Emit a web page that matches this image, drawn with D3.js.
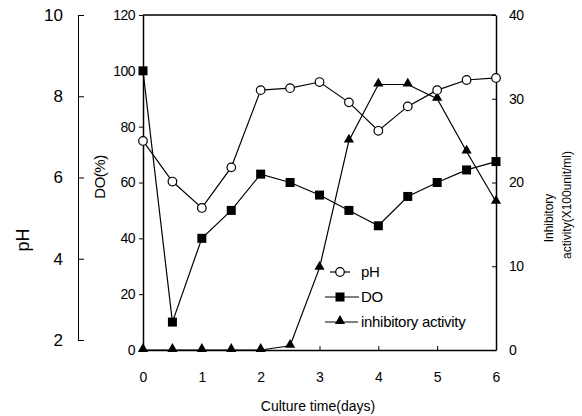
<!DOCTYPE html>
<html>
<head>
<meta charset="utf-8">
<script src="https://cdn.jsdelivr.net/npm/d3@7"></script>
<style>
  body { margin: 0; background: #fff; }
  svg text { font-family: "Liberation Sans", Arial, sans-serif; fill: #000; }
  .axis path, .axis line { stroke: #000; }
</style>
</head>
<body>
<div id="chart"></div>
<script>
// Culture time (days)
const days = [0, 0.5, 1, 1.5, 2, 2.5, 3, 3.5, 4, 4.5, 5, 5.5, 6];
// pH (open circles, far-left axis)
const phValues = [6.9, 5.9, 5.25, 6.25, 8.15, 8.2, 8.35, 7.85, 7.15, 7.75, 8.15, 8.4, 8.45];
// DO % (filled squares, left axis)
const doValues = [100, 10, 40, 50, 63, 60, 55.5, 50, 44.5, 55, 60, 64.5, 67.5];
// Inhibitory activity x100 unit/ml (filled triangles, right axis)
const inhValues = [0, 0, 0, 0, 0, 0.5, 9.8, 25, 31.7, 31.7, 30, 23.7, 17.7];

const phTicks = [2, 4, 6, 8, 10];
const doTicks = [0, 20, 40, 60, 80, 100, 120];
const inhTicks = [0, 10, 20, 30, 40];
const dayTicks = [0, 1, 2, 3, 4, 5, 6];

const W = 582, H = 416;
const plot = { left: 143, right: 496, top: 15, bottom: 350 };

const svg = d3.select("#chart").append("svg")
  .attr("width", W).attr("height", H);

const x = d3.scaleLinear().domain([0, 6]).range([plot.left, plot.right]);
const yDO = d3.scaleLinear().domain([0, 120]).range([plot.bottom, plot.top]);
const yPH = d3.scaleLinear().domain([2, 10]).range([340, plot.top]);
const yInh = d3.scaleLinear().domain([0, 40]).range([plot.bottom, plot.top]);

// frame top line
svg.append("line")
  .attr("x1", plot.left).attr("x2", plot.right).attr("y1", plot.top).attr("y2", plot.top)
  .attr("stroke", "#000").attr("stroke-width", 1.5);

// pH axis (separate, far left)
const phAxis = svg.append("g").attr("class", "axis")
  .attr("transform", "translate(78,0)")
  .call(d3.axisLeft(yPH).tickValues(phTicks).tickSizeInner(-6).tickSizeOuter(0).tickPadding(15));
phAxis.selectAll("text").style("font-size", "17px");

// DO axis
const doAxis = svg.append("g").attr("class", "axis")
  .attr("transform", `translate(${plot.left},0)`)
  .call(d3.axisLeft(yDO).tickValues(doTicks).tickSizeInner(4).tickSizeOuter(0).tickPadding(4));
doAxis.selectAll("text").style("font-size", "14px").attr("letter-spacing", "-0.5");
doAxis.select("path").attr("stroke-width", 1.5);

// Right axis
const inhAxis = svg.append("g").attr("class", "axis")
  .attr("transform", `translate(${plot.right},0)`)
  .call(d3.axisRight(yInh).tickValues(inhTicks).tickSizeInner(-4).tickSizeOuter(0).tickPadding(13));
inhAxis.selectAll("text").style("font-size", "14px").attr("letter-spacing", "-0.5");
inhAxis.select("path").attr("stroke-width", 1.5);

// X axis
const xAxis = svg.append("g").attr("class", "axis")
  .attr("transform", `translate(0,${plot.bottom})`)
  .call(d3.axisBottom(x).tickValues(dayTicks).tickFormat(d3.format("d"))
    .tickSizeInner(-4).tickSizeOuter(0).tickPadding(22));
xAxis.selectAll("text").style("font-size", "14px");
xAxis.select("path").attr("stroke-width", 1.5);

// axis titles
svg.append("text")
  .attr("transform", "translate(29,240) rotate(-90)")
  .attr("text-anchor", "middle").style("font-size", "18px").text("pH");
svg.append("text")
  .attr("transform", "translate(105,177) rotate(-90)")
  .attr("text-anchor", "middle").style("font-size", "15px").attr("letter-spacing", "-0.5").text("DO(%)");
svg.append("text")
  .attr("transform", "translate(553,218) rotate(-90)")
  .attr("text-anchor", "middle").style("font-size", "12px").text("Inhibitory");
svg.append("text")
  .attr("transform", "translate(571,205) rotate(-90)")
  .attr("text-anchor", "middle").style("font-size", "12px").text("activity(X100unit/ml)");
svg.append("text")
  .attr("x", 318).attr("y", 411)
  .attr("text-anchor", "middle").style("font-size", "14px").text("Culture time(days)");

const ph = days.map((d, i) => ({ d, v: phValues[i] }));
const dO = days.map((d, i) => ({ d, v: doValues[i] }));
const inh = days.map((d, i) => ({ d, v: inhValues[i] }));

function drawLine(data, yScale) {
  svg.append("path")
    .datum(data)
    .attr("fill", "none")
    .attr("stroke", "#000")
    .attr("stroke-width", 1.2)
    .attr("d", d3.line().x(p => x(p.d)).y(p => yScale(p.v)));
}
drawLine(inh, yInh);
drawLine(dO, yDO);
drawLine(ph, yPH);

const tri = d3.symbol().type(d3.symbolTriangle).size(45);

svg.selectAll(".tri").data(inh).join("path")
  .attr("class", "tri")
  .attr("transform", p => `translate(${x(p.d)},${yInh(p.v) - 1})`)
  .attr("d", tri).attr("fill", "#000");

svg.selectAll(".sq").data(dO).join("rect")
  .attr("class", "sq")
  .attr("x", p => x(p.d) - 4.5).attr("y", p => yDO(p.v) - 4.5)
  .attr("width", 9).attr("height", 9).attr("fill", "#000");

svg.selectAll(".circ").data(ph).join("circle")
  .attr("class", "circ")
  .attr("cx", p => x(p.d)).attr("cy", p => yPH(p.v))
  .attr("r", 4.3).attr("fill", "#fff").attr("stroke", "#000").attr("stroke-width", 1.2);

// legend
const legend = svg.append("g").attr("transform", "translate(340,0)");
const legendItems = [
  { label: "pH", y: 272, x1: -10, x2: 10 },
  { label: "DO", y: 297, x1: -15, x2: 19 },
  { label: "inhibitory activity", y: 322, x1: -15, x2: 18 }
];
legendItems.forEach((it, i) => {
  legend.append("line").attr("x1", it.x1).attr("x2", it.x2)
    .attr("y1", it.y).attr("y2", it.y).attr("stroke", "#000").attr("stroke-width", 1.2);
  if (i === 0) {
    legend.append("circle").attr("cx", 0).attr("cy", it.y).attr("r", 4.3)
      .attr("fill", "#fff").attr("stroke", "#000").attr("stroke-width", 1.2);
  } else if (i === 1) {
    legend.append("rect").attr("x", -4.5).attr("y", it.y - 4.5).attr("width", 9).attr("height", 9).attr("fill", "#000");
  } else {
    legend.append("path").attr("transform", `translate(0,${it.y - 1})`).attr("d", tri).attr("fill", "#000");
  }
  legend.append("text").attr("x", 21).attr("y", it.y + 5)
    .style("font-size", "15px").attr("letter-spacing", "-0.3").text(it.label);
});
</script>
</body>
</html>
